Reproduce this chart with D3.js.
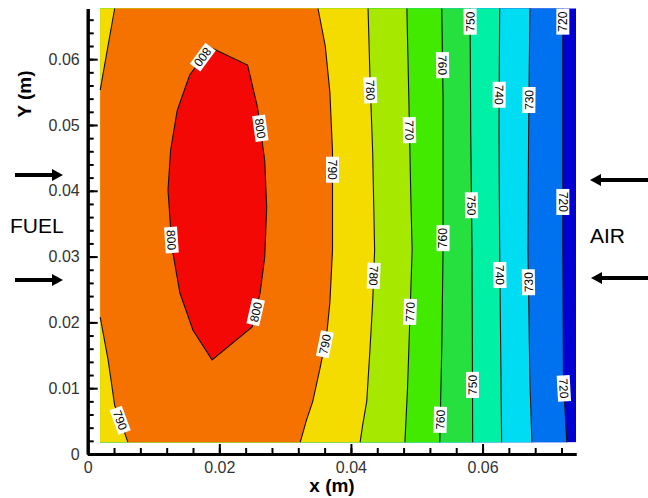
<!DOCTYPE html>
<html>
<head>
<meta charset="utf-8">
<script src="https://cdn.jsdelivr.net/npm/d3@7"></script>
<style>
  html, body { margin: 0; padding: 0; background: #fff; }
  svg { display: block; }
</style>
</head>
<body>
<script>
const width = 648, height = 498;

// contour levels (K) and band colours, from below the first level to above the last
const levels = [720, 730, 740, 750, 760, 770, 780, 790, 800];
const bandColors = ["#0000d2", "#0072f0", "#00dcf2", "#00f0a6", "#26e040",
                    "#42ea00", "#a6e800", "#f5dc00", "#f57200", "#f30806"];

// computational domain (m)
const xDomain = [0.0019, 0.0742];
const yDomain = [0.0018, 0.0677];

// isolines, [x, y] in m, top to bottom
const line720 = [[0.0722, 0.0677], [0.0722, 0.031], [0.0723, 0.011], [0.0728, 0.0018]];
const line730 = [[0.0672, 0.0677], [0.0670, 0.049], [0.0669, 0.031], [0.0672, 0.011], [0.0675, 0.0018]];
const line740 = [[0.0626, 0.0677], [0.0625, 0.049], [0.0626, 0.031], [0.0629, 0.0018]];
const line750 = [[0.0581, 0.0677], [0.0582, 0.049], [0.0584, 0.031], [0.0585, 0.0018]];
const line760 = [[0.0538, 0.0677], [0.0540, 0.054], [0.0540, 0.031], [0.0538, 0.016], [0.0535, 0.0018]];
const line770 = [[0.0485, 0.0677], [0.0488, 0.054], [0.0491, 0.039], [0.0493, 0.031],
                 [0.0489, 0.019], [0.0486, 0.010], [0.0482, 0.0018]];
const line780 = [[0.0426, 0.0677], [0.0429, 0.057], [0.0433, 0.046], [0.0436, 0.031],
                 [0.0433, 0.023], [0.0429, 0.016], [0.0424, 0.008], [0.0418, 0.0045], [0.0414, 0.0018]];
const line790 = [[0.0350, 0.0677], [0.0361, 0.062], [0.0368, 0.055], [0.0372, 0.046], [0.0372, 0.031],
                 [0.0368, 0.023], [0.0363, 0.018], [0.0353, 0.013], [0.0342, 0.008], [0.0332, 0.005], [0.0323, 0.0018]];
const line790top = [[0.0041, 0.0677], [0.0031, 0.0621], [0.0019, 0.0553]];
const line790bot = [[0.0019, 0.0208], [0.0031, 0.0143], [0.0041, 0.0074], [0.0052, 0.0044], [0.0061, 0.0018]];
const line800 = [[0.0186, 0.0618], [0.0243, 0.0591], [0.0258, 0.0527], [0.0269, 0.0446], [0.0272, 0.0375],
                 [0.0269, 0.0299], [0.0262, 0.0245], [0.0250, 0.0193], [0.0189, 0.0143], [0.0160, 0.0188],
                 [0.0140, 0.0245], [0.0128, 0.0314], [0.0122, 0.0401], [0.0126, 0.0462], [0.0136, 0.0522],
                 [0.0155, 0.0576]];

const xTicks = [0, 0.02, 0.04, 0.06];
const yTicks = [0, 0.01, 0.02, 0.03, 0.04, 0.05, 0.06];

// contour labels: level, x, y (m), reads upward?
const labels = [
  [800, 0.0175, 0.0603, 0], [800, 0.0263, 0.0495, 0], [800, 0.0125, 0.0325, 0], [800, 0.0254, 0.0216, 1],
  [790, 0.0051, 0.0052, 0], [790, 0.0373, 0.0432, 0], [790, 0.0364, 0.0166, 1],
  [780, 0.0432, 0.0553, 0], [780, 0.0434, 0.0271, 0],
  [770, 0.0487, 0.0492, 0], [770, 0.0490, 0.0216, 1],
  [760, 0.0538, 0.0591, 0], [760, 0.0540, 0.0328, 1], [760, 0.0537, 0.0052, 1],
  [750, 0.0581, 0.0657, 1], [750, 0.0582, 0.0378, 0], [750, 0.0585, 0.0105, 1],
  [740, 0.0625, 0.0546, 0], [740, 0.0624, 0.0272, 0],
  [730, 0.0669, 0.0538, 1], [730, 0.0670, 0.0261, 1],
  [720, 0.0724, 0.0657, 1], [720, 0.0724, 0.0383, 0], [720, 0.0727, 0.0100, 0]
];

const isolines = [
  {level: 720, pts: line720}, {level: 730, pts: line730}, {level: 740, pts: line740},
  {level: 750, pts: line750}, {level: 760, pts: line760}, {level: 770, pts: line770},
  {level: 780, pts: line780}, {level: 790, pts: line790}, {level: 790, pts: line790top},
  {level: 790, pts: line790bot}, {level: 800, pts: line800, closed: true}
];

const font = "'Liberation Sans', Arial, sans-serif";

const x = d3.scaleLinear().domain([0, 0.0742]).range([87.7, 576]);
const y = d3.scaleLinear().domain([0, 0.0677]).range([454, 8.5]);
const color = d3.scaleThreshold().domain(levels).range(bandColors);

const svg = d3.select("body").append("svg")
    .attr("width", width)
    .attr("height", height)
    .attr("font-family", font);

const line = d3.line().x(d => x(d[0])).y(d => y(d[1]));

// filled bands, painted from the coldest up
const fills = svg.append("g");
fills.append("rect")
    .attr("x", x(xDomain[0]))
    .attr("y", y(yDomain[1]))
    .attr("width", x(xDomain[1]) - x(xDomain[0]))
    .attr("height", y(yDomain[0]) - y(yDomain[1]))
    .attr("fill", color(700));

const leftCorners = [[xDomain[0], yDomain[0]], [xDomain[0], yDomain[1]]];
const bandPolys = [line720, line730, line740, line750, line760, line770, line780]
    .map((pts, i) => ({level: levels[i], pts: pts.concat(leftCorners)}));
bandPolys.push({level: 790, pts: line790.concat(line790bot.slice().reverse(), line790top.slice().reverse())});
bandPolys.push({level: 800, pts: line800});

fills.selectAll("path.band")
  .data(bandPolys)
  .enter().append("path")
    .attr("class", "band")
    .attr("fill", d => color(d.level))
    .attr("d", d => line(d.pts) + "Z");

// isolines
svg.append("g")
    .attr("fill", "none")
    .attr("stroke", "#111")
    .attr("stroke-width", 1.1)
  .selectAll("path")
  .data(isolines)
  .enter().append("path")
    .attr("d", d => line(d.pts) + (d.closed ? "Z" : ""));

// contour labels, aligned to nearest segment of their isoline
function placeLabel(lab) {
  const [lv, lx, ly, up] = lab;
  const px = x(lx), py = y(ly);
  let best = null;
  isolines.filter(l => l.level === lv).forEach(l => {
    const p = l.pts.map(d => [x(d[0]), y(d[1])]);
    const n = l.closed ? p.length : p.length - 1;
    for (let i = 0; i < n; i++) {
      const a = p[i], b = p[(i + 1) % p.length];
      const dx = b[0] - a[0], dy = b[1] - a[1];
      let t = ((px - a[0]) * dx + (py - a[1]) * dy) / (dx * dx + dy * dy);
      t = Math.max(0, Math.min(1, t));
      const qx = a[0] + t * dx, qy = a[1] + t * dy;
      const dist = Math.hypot(px - qx, py - qy);
      if (!best || dist < best.dist) best = {dist, qx, qy, dx, dy};
    }
  });
  let ang = Math.atan2(best.dy, best.dx) * 180 / Math.PI;
  if (ang < 0) ang += 180;
  if (up) ang += 180;
  return {qx: best.qx, qy: best.qy, ang, text: String(lv)};
}

const lab = svg.append("g")
  .selectAll("g")
  .data(labels.map(placeLabel))
  .enter().append("g")
    .attr("transform", d => `translate(${d.qx},${d.qy}) rotate(${d.ang})`);

lab.append("rect").attr("fill", "#fff");
lab.append("text")
    .attr("font-size", 12)
    .attr("text-anchor", "middle")
    .attr("dy", "0.36em")
    .attr("fill", "#000")
    .text(d => d.text);
lab.each(function() {
  const g = d3.select(this);
  const w = g.select("text").node().getComputedTextLength() + 6;
  g.select("rect").attr("x", -w / 2).attr("y", -6.5).attr("width", w).attr("height", 13);
});

// axes
const fmt = d => d === 0 ? "0" : d3.format(".2f")(d);

function styleAxis(g) {
  g.select(".domain").attr("stroke-width", 3).attr("stroke", "#000");
  g.selectAll(".tick line").attr("stroke-width", 2).attr("stroke", "#000");
  g.selectAll(".tick text").attr("font-size", 16).attr("fill", "#333").attr("font-family", font);
}

svg.append("g")
    .attr("transform", `translate(0,${y(0)})`)
    .call(d3.axisBottom(x).tickValues(d3.range(0, 0.0741, 0.004)).tickSize(-6).tickSizeOuter(0).tickFormat(""))
    .call(styleAxis);
svg.append("g")
    .attr("transform", `translate(0,${y(0)})`)
    .call(d3.axisBottom(x).tickValues(xTicks).tickSize(-10).tickSizeOuter(0).tickPadding(8).tickFormat(fmt))
    .call(styleAxis);

svg.append("g")
    .attr("transform", `translate(${x(0)},0)`)
    .call(d3.axisLeft(y).tickValues(d3.range(0, 0.0677, 0.002)).tickSize(-6).tickSizeOuter(0).tickFormat(""))
    .call(styleAxis);
svg.append("g")
    .attr("transform", `translate(${x(0)},0)`)
    .call(d3.axisLeft(y).tickValues(yTicks).tickSize(-10).tickSizeOuter(0).tickPadding(8).tickFormat(fmt))
    .call(styleAxis);

// axis titles
svg.append("text")
    .attr("x", 332).attr("y", 492)
    .attr("text-anchor", "middle")
    .attr("font-size", 19).attr("font-weight", "bold")
    .text("x (m)");
svg.append("text")
    .attr("transform", "translate(31,94) rotate(-90)")
    .attr("text-anchor", "middle")
    .attr("font-size", 19).attr("font-weight", "bold")
    .text("Y (m)");

// inlet annotations
svg.append("text").attr("x", 10).attr("y", 232.5).attr("font-size", 21).text("FUEL");
svg.append("text").attr("x", 590).attr("y", 243).attr("font-size", 21).text("AIR");

function arrow(x0, x1, yy) {
  const dir = Math.sign(x1 - x0), head = 11;
  svg.append("line")
      .attr("x1", x0).attr("x2", x1 - dir * head).attr("y1", yy).attr("y2", yy)
      .attr("stroke", "#000").attr("stroke-width", 4);
  svg.append("path")
      .attr("d", `M${x1},${yy}L${x1 - dir * head},${yy - 6}L${x1 - dir * head},${yy + 6}Z`)
      .attr("fill", "#000");
}
arrow(15, 63, 175);
arrow(15, 63, 280);
arrow(650, 590, 180);
arrow(650, 591, 278);
</script>
</body>
</html>
